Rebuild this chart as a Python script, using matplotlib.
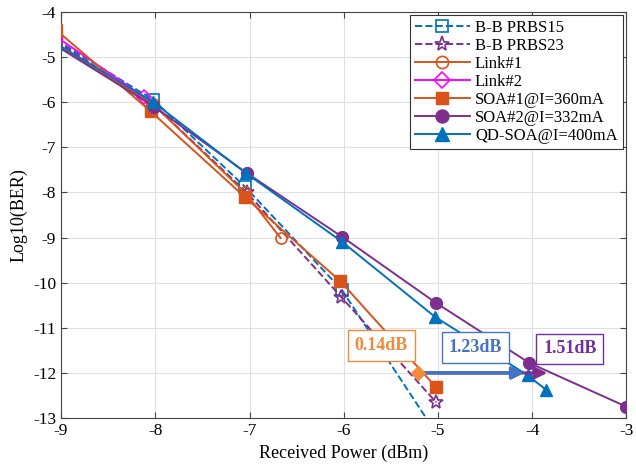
import matplotlib
matplotlib.use("Agg")
import matplotlib.pyplot as plt

plt.rcParams['font.family'] = ['Liberation Serif', 'DejaVu Serif']
plt.rcParams['axes.unicode_minus'] = False

# Data
bb15_x = [-9.05, -8.02, -7.05, -6.02, -5.0]
bb15_y = [-4.62, -5.95, -7.87, -10.16, -13.4]
bb23_x = [-9.05, -8.02, -7.03, -6.03, -5.02]
bb23_y = [-4.65, -6.05, -8.0, -10.31, -12.65]
link1_x = [-9.05, -8.02, -7.05, -6.67]
link1_y = [-4.72, -6.05, -8.0, -9.01]
link2_x = [-9.05, -8.12]
link2_y = [-4.55, -5.88]
soa1_x = [-9.05, -8.05, -7.05, -6.04, -5.02]
soa1_y = [-4.4, -6.2, -8.1, -9.96, -12.32]
soa2_x = [-9.05, -8.01, -7.03, -6.02, -5.02, -4.03, -3.0]
soa2_y = [-4.75, -6.1, -7.57, -8.98, -10.45, -11.78, -12.75]
qd_x = [-9.05, -8.02, -7.04, -6.02, -5.03, -4.05, -3.85]
qd_y = [-4.7, -6.0, -7.57, -9.09, -10.76, -12.05, -12.38]

labels = ['B-B PRBS15', 'B-B PRBS23', 'Link#1', 'Link#2',
          'SOA#1@I=360mA', 'SOA#2@I=332mA', 'QD-SOA@I=400mA']

ann_texts = ['0.14dB', '1.23dB', '1.51dB']
ann_x = [-5.6, -4.6, -3.6]
ann_y = [-11.4, -11.43, -11.47]
ann_colors = ['#F08A3C', '#4472C4', '#7030A0']
arrow_y = -12.0
arrow_start = -5.21
blue_arrow_end = -4.08
purple_arrow_end = -3.84

C_BLUE = '#0072BD'
C_ORANGE = '#D95319'
C_PURPLE = '#7E2F8E'
C_MAG = '#FF00FF'

fig = plt.figure(figsize=(6.36, 4.71), dpi=100)
ax = fig.add_axes([0.096, 0.1125, 0.889, 0.862])

ax.plot(bb15_x, bb15_y, '--', color=C_BLUE, lw=1.4, marker='s', ms=8, mfc='none', mew=1.2, label=labels[0], zorder=3)
ax.plot(bb23_x, bb23_y, '--', color=C_PURPLE, lw=1.4, marker='*', ms=10, mfc='none', mew=1.2, label=labels[1], zorder=3)
ax.plot(link1_x, link1_y, '-', color=C_ORANGE, lw=1.4, marker='o', ms=8, mfc='none', mew=1.2, label=labels[2], zorder=3)
ax.plot(link2_x, link2_y, '-', color=C_MAG, lw=1.4, marker='D', ms=7, mfc='none', mew=1.2, label=labels[3], zorder=3)
ax.plot(soa1_x, soa1_y, '-', color=C_ORANGE, lw=1.4, marker='s', ms=8, mfc=C_ORANGE, label=labels[4], zorder=4)
ax.plot(soa2_x, soa2_y, '-', color=C_PURPLE, lw=1.4, marker='o', ms=8.5, mfc=C_PURPLE, label=labels[5], zorder=4)
ax.plot(qd_x, qd_y, '-', color=C_BLUE, lw=1.4, marker='^', ms=9, mfc=C_BLUE, label=labels[6], zorder=5)

# arrows
ax.annotate('', xy=(purple_arrow_end, arrow_y), xytext=(arrow_start, arrow_y),
            arrowprops=dict(arrowstyle='-|>', color=C_PURPLE, lw=2.2, mutation_scale=18,
                            shrinkA=0, shrinkB=0), zorder=6)
ax.annotate('', xy=(blue_arrow_end, arrow_y), xytext=(arrow_start, arrow_y),
            arrowprops=dict(arrowstyle='-|>', color='#4472C4', lw=2.6, mutation_scale=18,
                            shrinkA=0, shrinkB=0), zorder=7)
ax.plot([arrow_start], [arrow_y], marker='D', ms=7, color='#F08A3C', zorder=8, clip_on=False)

for t, x, y, c in zip(ann_texts, ann_x, ann_y, ann_colors):
    ax.text(x, y, t, color=c, fontsize=13, fontweight='bold', ha='center', va='center',
            bbox=dict(boxstyle='square,pad=0.38', fc='white', ec=c, lw=1.0), zorder=9)

ax.set_xlim(-9, -3)
ax.set_ylim(-13, -4)
ax.set_xticks(range(-9, -2))
ax.set_yticks(range(-13, -3))
ax.grid(True, color='#E0E0E0', lw=0.8)
ax.set_axisbelow(True)
ax.tick_params(direction='in', top=True, right=True, labelsize=12.5, length=4, color='#444444')
for s in ax.spines.values():
    s.set_color('#444444')
    s.set_linewidth(0.8)
ax.set_xlabel('Received Power (dBm)', fontsize=13)
ax.set_ylabel('Log10(BER)', fontsize=13)

leg = ax.legend(loc='upper right', fontsize=12, handlelength=3.3, labelspacing=0.12,
                borderpad=0.3, handletextpad=0.3, fancybox=False, framealpha=1,
                edgecolor='#333333', bbox_to_anchor=(0.993, 0.993), borderaxespad=0,
                markerscale=1.1)
leg.get_frame().set_linewidth(0.8)

fig.savefig('out.png', dpi=100)
